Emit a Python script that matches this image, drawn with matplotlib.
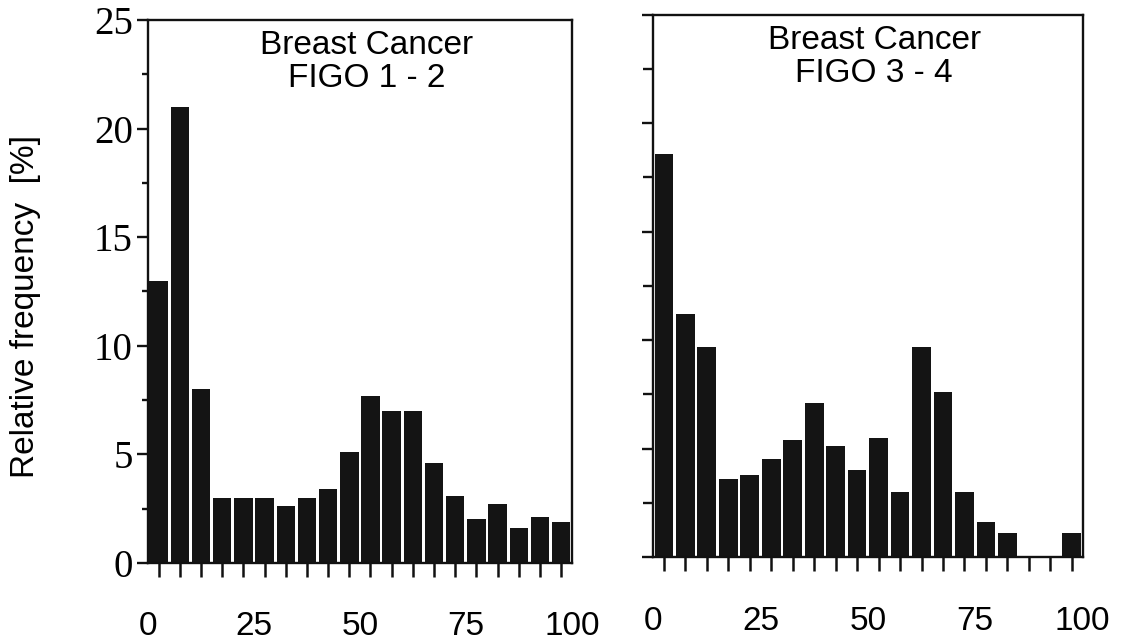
import numpy as np
import matplotlib.pyplot as plt

# ---------------------------
# Datos (frecuencia relativa por clase de 5 %)
# ---------------------------
bin_starts = np.arange(0, 100, 5)
bin_width = 5

figo_12 = [13.0, 21.0, 8.0, 3.0, 3.0, 3.0, 2.6, 3.0, 3.4, 5.1,
           7.7, 7.0, 7.0, 4.6, 3.1, 2.0, 2.7, 1.6, 2.1, 1.9]
figo_34 = [18.6, 11.2, 9.7, 3.6, 3.8, 4.5, 5.4, 7.1, 5.1, 4.0,
           5.5, 3.0, 9.7, 7.6, 3.0, 1.6, 1.1, 0.0, 0.0, 1.1]

titles = ["Breast Cancer\nFIGO 1 - 2", "Breast Cancer\nFIGO 3 - 4"]
x_labels = [0, 25, 50, 75, 100]
y_major = [0, 5, 10, 15, 20, 25]
y_minor = [2.5, 7.5, 12.5, 17.5, 22.5]

SANS = "Liberation Sans"
SERIF = "Liberation Serif"

fig = plt.figure(figsize=(11.3, 6.44), dpi=100)
ax1 = fig.add_axes([0.131, 0.126, 0.375, 0.843])
ax2 = fig.add_axes([0.578, 0.135, 0.380, 0.842])


def draw_panel(ax, values, title, show_ylabels):
    centers = bin_starts + bin_width / 2
    ax.bar(centers, values, width=bin_width * 0.87, color="#141414",
           edgecolor="none")
    ax.set_xlim(0, 100)
    ax.set_ylim(0, 25)
    for sp in ax.spines.values():
        sp.set_linewidth(1.7)
        sp.set_color("#111111")

    # marcas pequeñas en el centro de cada clase
    ax.set_xticks(centers, minor=True)
    ax.tick_params(axis="x", which="minor", direction="out", length=10,
                   width=1.8, color="#111111")
    ax.set_xticks(x_labels)
    ax.set_xticklabels([str(v) for v in x_labels], fontfamily=SANS,
                       fontsize=24)
    ax.tick_params(axis="x", which="major", length=0, pad=35)

    ax.set_yticks(y_major)
    ax.set_yticks(y_minor, minor=True)
    ax.tick_params(axis="y", which="major", direction="out", length=8,
                   width=1.7, color="#111111")
    if show_ylabels:
        ax.set_yticklabels([str(v) for v in y_major], fontfamily=SERIF,
                           fontsize=28)
        ax.tick_params(axis="y", which="major", pad=3)
        ax.tick_params(axis="y", which="minor", direction="out", length=4.5,
                       width=1.7, color="#111111")
    else:
        ax.set_yticklabels([])
        ax.tick_params(axis="y", which="minor", direction="out", length=7,
                       width=1.7, color="#111111")

    ax.text(0.515, 0.982, title, transform=ax.transAxes, ha="center",
            va="top", fontfamily=SANS, fontsize=24, linespacing=1.1)


draw_panel(ax1, figo_12, titles[0], True)
draw_panel(ax2, figo_34, titles[1], False)

ax1.set_ylabel("Relative frequency  [%]", fontfamily=SANS, fontsize=24)
ax1.yaxis.set_label_coords(-0.252, 0.472)

fig.savefig("out.png", dpi=100)
